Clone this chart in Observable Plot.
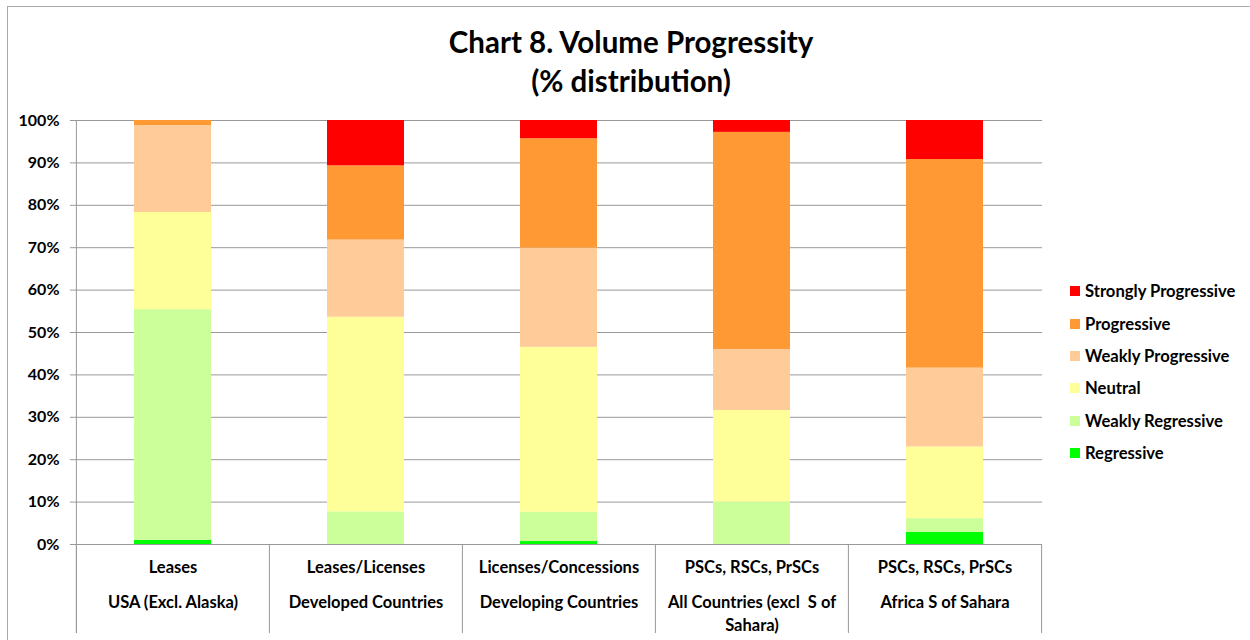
<!DOCTYPE html>
<html>
<head>
<meta charset="utf-8">
<script src="https://cdn.jsdelivr.net/npm/d3@7"></script>
<script src="https://cdn.jsdelivr.net/npm/@observablehq/plot@0.6"></script>
<style>
  body { margin: 0; background: #fff; }
  #wrap { position: relative; width: 1250px; height: 640px; overflow: hidden; font-family: Lato, "Open Sans", sans-serif; color: #000; }
  #frame { position: absolute; left: 7px; top: 6px; width: 1400px; height: 800px; border: 1.5px solid #aaa; box-sizing: border-box; }
  #title { position: absolute; left: 0; width: 1262px; top: 22px; text-align: center; font-weight: bold; font-size: 29.5px; line-height: 39px; }
  #legend { position: absolute; left: 1070px; top: 275px; font-weight: bold; font-size: 16.6px; }
  .item { height: 32.4px; display: flex; align-items: center; white-space: nowrap; }
  .sw { width: 10px; height: 10px; margin-right: 5px; flex: none; }
  #chart { position: absolute; left: 0; top: 0; }
</style>
</head>
<body>
<div id="wrap">
  <div id="frame"></div>
  <div id="chart"></div>
  <div id="title">Chart 8. Volume Progressity<br>(% distribution)</div>
  <div id="legend"></div>
</div>
<script>
// Category labels (two-level axis)
const contracts = ["Leases", "Leases/Licenses", "Licenses/Concessions", "PSCs, RSCs, PrSCs", "PSCs, RSCs, PrSCs"];
const regions = ["USA (Excl. Alaska)", "Developed Countries", "Developing Countries", "All Countries (excl  S of Sahara)", "Africa S of Sahara"];
const regionLabels = ["USA (Excl. Alaska)", "Developed Countries", "Developing Countries", "All Countries (excl  S of\nSahara)", "Africa S of Sahara"];

// Series (percent of each bar), bottom to top
const seriesNames = ["Regressive", "Weakly Regressive", "Neutral", "Weakly Progressive", "Progressive", "Strongly Progressive"];
const seriesColors = ["#00FF00", "#CCFF99", "#FFFF99", "#FFCC99", "#FF9933", "#FF0000"];
const regressive          = [1.0,  0.0,  0.7,  0.0,  2.9];
const weaklyRegressive    = [54.4, 7.7,  6.9,  10.0, 3.2];
const neutral             = [22.9, 45.9, 38.9, 21.6, 16.9];
const weaklyProgressive   = [20.5, 18.2, 23.4, 14.4, 18.6];
const progressive         = [1.2,  17.5, 25.8, 51.2, 49.2];
const stronglyProgressive = [0.0,  10.7, 4.3,  2.8,  9.2];

const yTicks = [0, 10, 20, 30, 40, 50, 60, 70, 80, 90, 100];

const seriesValues = [regressive, weaklyRegressive, neutral, weaklyProgressive, progressive, stronglyProgressive];
const table = [];
seriesNames.forEach((s, si) => {
  regions.forEach((r, ri) => table.push({ region: r, series: s, value: seriesValues[si][ri] }));
});

const W = 1250, H = 640, mL = 76, mR = 208, mT = 120, mB = 96;
const step = (W - mL - mR) / regions.length;
const FONT = "Lato, 'Open Sans', sans-serif";

const chart = Plot.plot({
  width: W, height: H,
  marginLeft: mL, marginRight: mR, marginTop: mT, marginBottom: mB,
  style: { fontFamily: FONT, fontSize: "16px", fontWeight: "bold", color: "#000", background: "transparent", overflow: "visible" },
  x: { domain: regions, paddingInner: 0.6, paddingOuter: 0.3, axis: null, label: null },
  y: { domain: [0, 100], axis: null, label: null },
  color: { domain: seriesNames, range: seriesColors },
  marks: [
    Plot.gridY(yTicks, { stroke: "#999", strokeOpacity: 1, strokeWidth: 1 }),
    Plot.barY(table, { x: "region", y: "value", fill: "series" }),
    Plot.axisY(yTicks, { label: null, tickFormat: d => d + "%", tickSize: 6, tickPadding: 11, stroke: "#999", strokeOpacity: 1, fill: "#000", fontSize: 16, fontWeight: "bold" }),
    // left axis line (extends through category label area)
    Plot.ruleX([regions[0]], { x: d => d, dx: -step / 2, y1: -21, y2: 100, stroke: "#999", strokeWidth: 1 }),
    // category separators below the axis
    Plot.ruleX(regions, { x: d => d, dx: -step / 2, y1: 0, y2: -21, stroke: "#999", strokeWidth: 1 }),
    Plot.ruleX([regions[regions.length - 1]], { x: d => d, dx: step / 2, y1: 0, y2: -21, stroke: "#999", strokeWidth: 1 }),
    // baseline
    Plot.ruleY([0], { stroke: "#999", strokeWidth: 1 }),
    // two-level category labels
    Plot.text(regions, { x: d => d, y: -5.4, text: (d, i) => contracts[i], fill: "#000", fontSize: 16.5, fontWeight: "bold", lineAnchor: "middle" }),
    Plot.text(regions, { x: d => d, y: -11.1, text: (d, i) => regionLabels[i], fill: "#000", fontSize: 16.5, fontWeight: "bold", lineAnchor: "top", lineHeight: 1.39 })
  ]
});
document.getElementById("chart").appendChild(chart);

// Legend (top to bottom: Strongly Progressive ... Regressive)
const legend = document.getElementById("legend");
seriesNames.slice().reverse().forEach((s, i) => {
  const c = seriesColors[seriesColors.length - 1 - i];
  const row = document.createElement("div");
  row.className = "item";
  row.innerHTML = `<span class="sw" style="background:${c}"></span><span>${s}</span>`;
  legend.appendChild(row);
});
</script>
</body>
</html>
